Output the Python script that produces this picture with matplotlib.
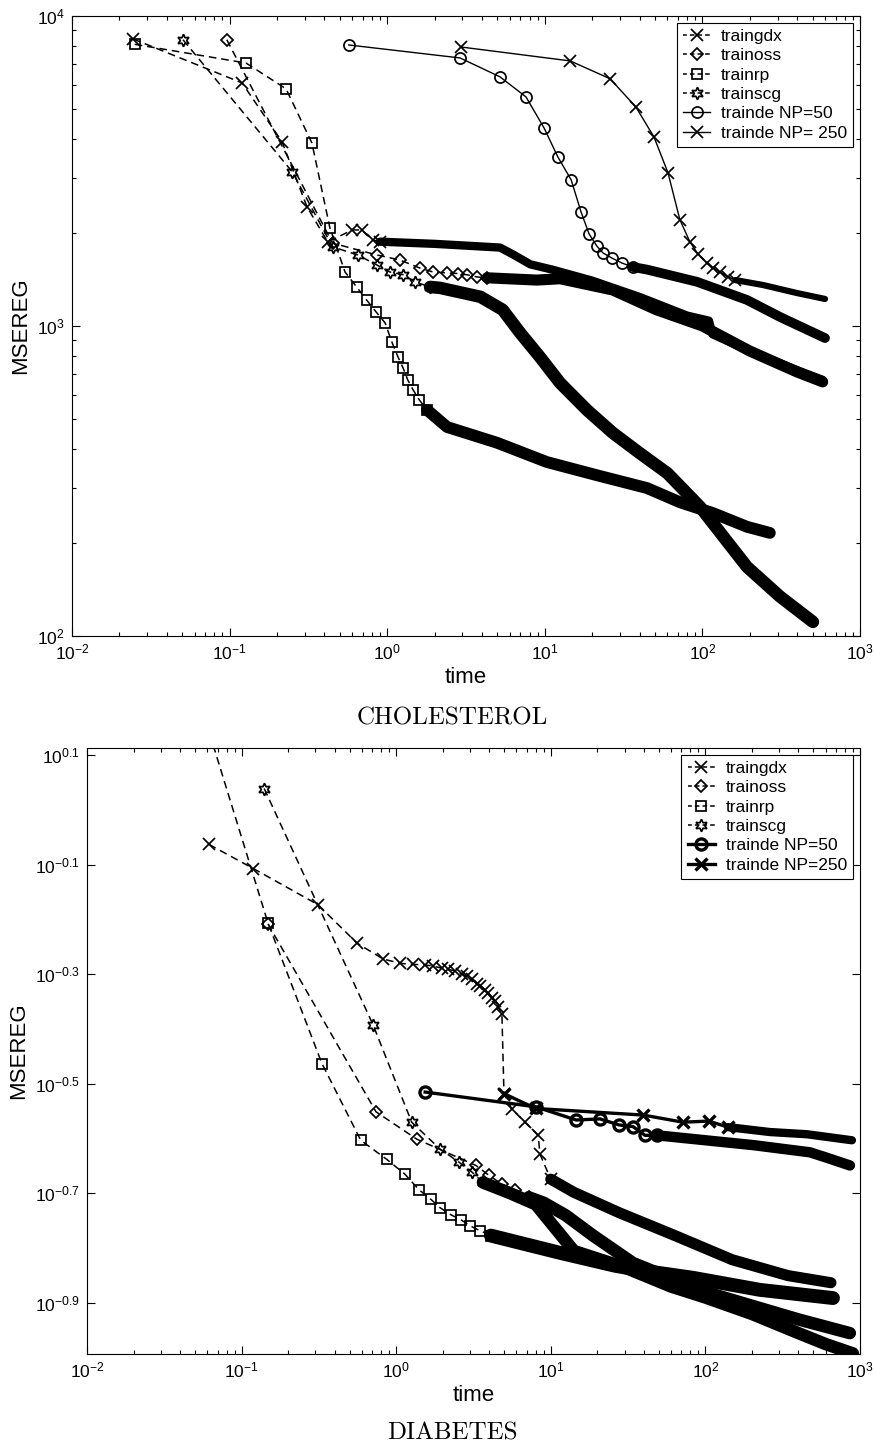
import numpy as np
import matplotlib
matplotlib.use("Agg")
import matplotlib.pyplot as plt
from matplotlib.ticker import LogLocator, FixedLocator, FixedFormatter, NullLocator, NullFormatter

plt.rcParams["font.family"] = ["Liberation Sans", "DejaVu Sans"]
plt.rcParams["mathtext.default"] = "regular"

# ---------- data: CHOLESTEROL (time in s, MSEREG) ----------
chol_labels = ["traingdx", "trainoss", "trainrp", "trainscg", "trainde NP=50", "trainde NP= 250"]

chol_gdx_t = [0.0244, 0.12, 0.215, 0.31, 0.42, 0.6, 0.69, 0.81, 0.9, 2.0, 5.2, 6.3, 8.1, 11.3,
              20, 40, 80, 110, 116, 200, 400, 580]
chol_gdx_v = [8430, 6080, 3930, 2420, 1866, 2040, 2040, 1893, 1870, 1840, 1790, 1700, 1580, 1517,
              1400, 1240, 1080, 1040, 940, 830, 720, 670]

chol_oss_t = [0.096, 0.45, 0.86, 1.2, 1.61, 1.95, 2.39, 2.81, 3.2, 3.71, 4.3, 8.9, 12.5, 27, 51,
              100, 200, 400, 580]
chol_oss_v = [8380, 1850, 1694, 1633, 1538, 1493, 1483, 1476, 1463, 1439, 1430, 1406, 1420, 1306, 1128,
              1000, 830, 710, 660]

chol_rp_t = [0.025, 0.127, 0.228, 0.333, 0.433, 0.54, 0.64, 0.74, 0.85, 0.97, 1.07, 1.17, 1.26, 1.35,
             1.46, 1.6, 1.79, 2.4, 4.98, 10.3, 21.4, 44.5, 72, 117, 192, 268]
chol_rp_v = [8100, 7050, 5820, 3890, 2070, 1493, 1336, 1213, 1110, 1023, 888, 795, 733, 670,
             622, 577, 536, 472, 420, 364, 330, 300, 270, 249, 225, 215]

chol_scg_t = [0.0506, 0.25, 0.45, 0.65, 0.86, 1.04, 1.26, 1.5, 1.87, 2.16, 3.9, 5.4, 7.0, 9.3, 12.5,
              18.5, 27, 40, 60, 96.6, 192, 311, 503]
chol_scg_v = [8380, 3140, 1800, 1694, 1573, 1493, 1463, 1388, 1336, 1327, 1242, 1128, 948, 795, 655,
              536, 452, 389, 335, 261, 167, 134, 111]

chol_de50_t = [0.57, 2.9, 5.2, 7.6, 9.9, 12.1, 14.7, 17, 19.1, 21.4, 23.4, 26.7, 30.9, 36.3, 44.5,
               92.5, 192, 311, 600]
chol_de50_v = [8060, 7320, 6360, 5480, 4350, 3510, 2960, 2330, 1980, 1810, 1720, 1655, 1595, 1549, 1520,
               1388, 1213, 1069, 914]

chol_de250_t = [2.94, 14.5, 26, 37.9, 49.3, 60.5, 72, 83.4, 93.7, 107, 117, 129, 146, 162, 243, 398, 600]
chol_de250_v = [7940, 7160, 6270, 5080, 4070, 3120, 2200, 1866, 1706, 1595, 1538, 1493, 1439, 1406,
                1355, 1277, 1222]

# ---------- data: DIABETES (time in s, log10 MSEREG) ----------
diab_labels = ["traingdx", "trainoss", "trainrp", "trainscg", "trainde NP=50", "trainde NP=250"]

diab_gdx_t = [0.0615, 0.119, 0.312, 0.557, 0.82, 1.06, 1.29, 1.54, 1.73, 1.98, 2.16, 2.40, 2.67, 2.87,
              3.09, 3.33, 3.48, 3.75, 3.93, 4.17, 4.36, 4.56, 4.83, 4.98, 5.6, 6.8, 8.3, 8.5, 10,
              14.1, 27.6, 63.6, 149, 342, 649]
diab_gdx_lg = [-0.063, -0.107, -0.173, -0.243, -0.272, -0.28, -0.282, -0.283, -0.285, -0.289, -0.291,
               -0.294, -0.300, -0.304, -0.309, -0.317, -0.322, -0.328, -0.335, -0.344, -0.348, -0.359,
               -0.373, -0.518, -0.546, -0.57, -0.594, -0.628, -0.674, -0.698, -0.735, -0.777, -0.821,
               -0.85, -0.863]

diab_oss_t = [0.148, 0.74, 1.36, 3.28, 3.98, 4.83, 5.86, 7.2, 9.0, 12.5, 18.8, 34, 60, 100, 200, 400, 860]
diab_oss_lg = [-0.208, -0.551, -0.601, -0.649, -0.667, -0.683, -0.694, -0.707, -0.717, -0.74, -0.777,
               -0.827, -0.855, -0.88, -0.905, -0.93, -0.955]

diab_rp_t = [0.062, 0.148, 0.331, 0.59, 0.87, 1.14, 1.40, 1.68, 1.92, 2.26, 2.62, 3.0, 3.48, 4.1,
             11.3, 26, 39.5, 83, 225, 669]
diab_rp_lg = [0.14, -0.206, -0.463, -0.603, -0.638, -0.665, -0.693, -0.711, -0.726, -0.739, -0.748,
              -0.759, -0.768, -0.777, -0.808, -0.832, -0.841, -0.854, -0.876, -0.891]

diab_scg_t = [0.14, 0.708, 1.26, 1.92, 2.55, 3.09, 3.64, 5.5, 8.0, 14.1, 30, 60, 100, 200, 400, 600, 900]
diab_scg_lg = [0.039, -0.392, -0.57, -0.619, -0.643, -0.661, -0.68, -0.70, -0.72, -0.805, -0.835,
               -0.87, -0.89, -0.92, -0.955, -0.975, -0.992]

diab_de50_t = [1.54, 8.0, 14.6, 20.8, 27.6, 34, 40.7, 48.7, 206, 475, 612, 861]
diab_de50_lg = [-0.515, -0.542, -0.566, -0.564, -0.575, -0.578, -0.594, -0.594, -0.612, -0.625,
                -0.635, -0.649]

diab_de250_t = [4.98, 8.0, 39.6, 71.6, 105, 140, 262, 454, 887]
diab_de250_lg = [-0.518, -0.545, -0.557, -0.57, -0.568, -0.579, -0.588, -0.592, -0.603]

diab_ytick_exp = [0.1, -0.1, -0.3, -0.5, -0.7, -0.9]

# ---------- styles ----------
DASH = (0, (5.0, 3.2))
LEG_DASH = (0.5, (3.0, 2.0))
STAR6 = (6, 1, 0)
# marker, linestyle, thin lw, band lw, index where the dense marker band starts
CHOL_STYLE = [
    ("x", DASH, 1.1, 6.0, 8),
    ("D", DASH, 1.1, 8.0, 10),
    ("s", DASH, 1.1, 8.5, 16),
    (STAR6, DASH, 1.1, 9.0, 8),
    ("o", "-", 1.0, 7.0, 13),
    ("x", "-", 1.0, 4.5, 13),
]
DIAB_STYLE = [
    ("x", DASH, 1.1, 8.0, 28),
    ("D", DASH, 1.1, 9.0, 7),
    ("s", DASH, 1.1, 10.0, 13),
    (STAR6, DASH, 1.1, 9.0, 6),
    ("o", "-", 2.4, 7.5, 7),
    ("x", "-", 2.4, 6.0, 5),
]
MARKER_SIZE = {"x": 8, "D": 6.5, "s": 7.5, "o": 8}


def draw(ax, series, styles, labels, bold_de=False):
    handles = []
    for k, ((t, v), (mk, ls, lw, blw, start)) in enumerate(zip(series, styles)):
        t = np.asarray(t, float)
        v = np.asarray(v, float)
        ms = MARKER_SIZE.get(mk, 9)
        mew = 1.25
        if bold_de and k >= 4:
            mew = 2.4
        ax.plot(t[:start + 1], v[:start + 1], color="k", ls=ls, lw=lw, marker=mk, ms=ms,
                mfc="none", mec="k", mew=mew)
        ax.plot(t[start:], v[start:], color="k", lw=blw, solid_capstyle="round",
                solid_joinstyle="round")
        # legend proxy: shorter dash so both sides of the marker show a dash
        handles.append(plt.Line2D([], [], color="k", ls=LEG_DASH if ls == DASH else "-", lw=lw,
                                  marker=mk, ms=ms, mfc="none", mec="k", mew=mew))
    leg = ax.legend(handles, labels, loc="upper right", fontsize=12.5, fancybox=False, edgecolor="k",
                    framealpha=1, borderaxespad=0.4, handlelength=1.6, handletextpad=0.6,
                    labelspacing=0.24, borderpad=0.35, numpoints=1)
    leg.get_frame().set_linewidth(0.8)


def style_axes(ax):
    ax.set_xscale("log")
    ax.set_yscale("log")
    ax.set_xlim(1e-2, 1e3)
    ax.tick_params(which="both", direction="in", top=True, right=True, labelsize=12.5, width=0.8)
    ax.tick_params(which="major", length=6, pad=5)
    ax.tick_params(which="minor", length=3)
    ax.xaxis.set_major_locator(LogLocator(base=10, numticks=10))
    ax.xaxis.set_minor_locator(LogLocator(base=10, subs=range(2, 10), numticks=10))
    ax.xaxis.set_minor_formatter(NullFormatter())
    for s in ax.spines.values():
        s.set_linewidth(0.8)
    ax.set_xlabel("time", fontsize=16, labelpad=3)
    ax.set_ylabel("MSEREG", fontsize=16, labelpad=4)


fig = plt.figure(figsize=(8.76, 14.49), dpi=100)
ax1 = fig.add_axes([0.0822, 0.5611, 0.8995, 0.4279])
ax2 = fig.add_axes([0.0993, 0.0656, 0.8824, 0.4182])

# CHOLESTEROL
chol = [(chol_gdx_t, chol_gdx_v), (chol_oss_t, chol_oss_v), (chol_rp_t, chol_rp_v),
        (chol_scg_t, chol_scg_v), (chol_de50_t, chol_de50_v), (chol_de250_t, chol_de250_v)]
draw(ax1, chol, CHOL_STYLE, chol_labels)
style_axes(ax1)
ax1.set_ylim(1e2, 1e4)
ax1.yaxis.set_minor_locator(LogLocator(base=10, subs=range(2, 10), numticks=10))
ax1.yaxis.set_minor_formatter(NullFormatter())

# DIABETES
diab = [(diab_gdx_t, diab_gdx_lg), (diab_oss_t, diab_oss_lg), (diab_rp_t, diab_rp_lg),
        (diab_scg_t, diab_scg_lg), (diab_de50_t, diab_de50_lg), (diab_de250_t, diab_de250_lg)]
diab = [(t, 10.0 ** np.asarray(lg)) for t, lg in diab]
draw(ax2, diab, DIAB_STYLE, diab_labels, bold_de=True)
style_axes(ax2)
ax2.set_ylim(10 ** -0.993, 10 ** 0.113)
ax2.yaxis.set_major_locator(FixedLocator([10.0 ** e for e in diab_ytick_exp]))
ax2.yaxis.set_major_formatter(FixedFormatter(["$10^{%g}$" % e for e in diab_ytick_exp]))
ax2.yaxis.set_minor_locator(NullLocator())

fig.text(0.516, 1 - 718 / 1449, "CHOLESTEROL", ha="center", va="center", fontsize=18, family="cmr10")
fig.text(0.516, 1 - 1433 / 1449, "DIABETES", ha="center", va="center", fontsize=18, family="cmr10")

fig.savefig("out.png", dpi=100)
